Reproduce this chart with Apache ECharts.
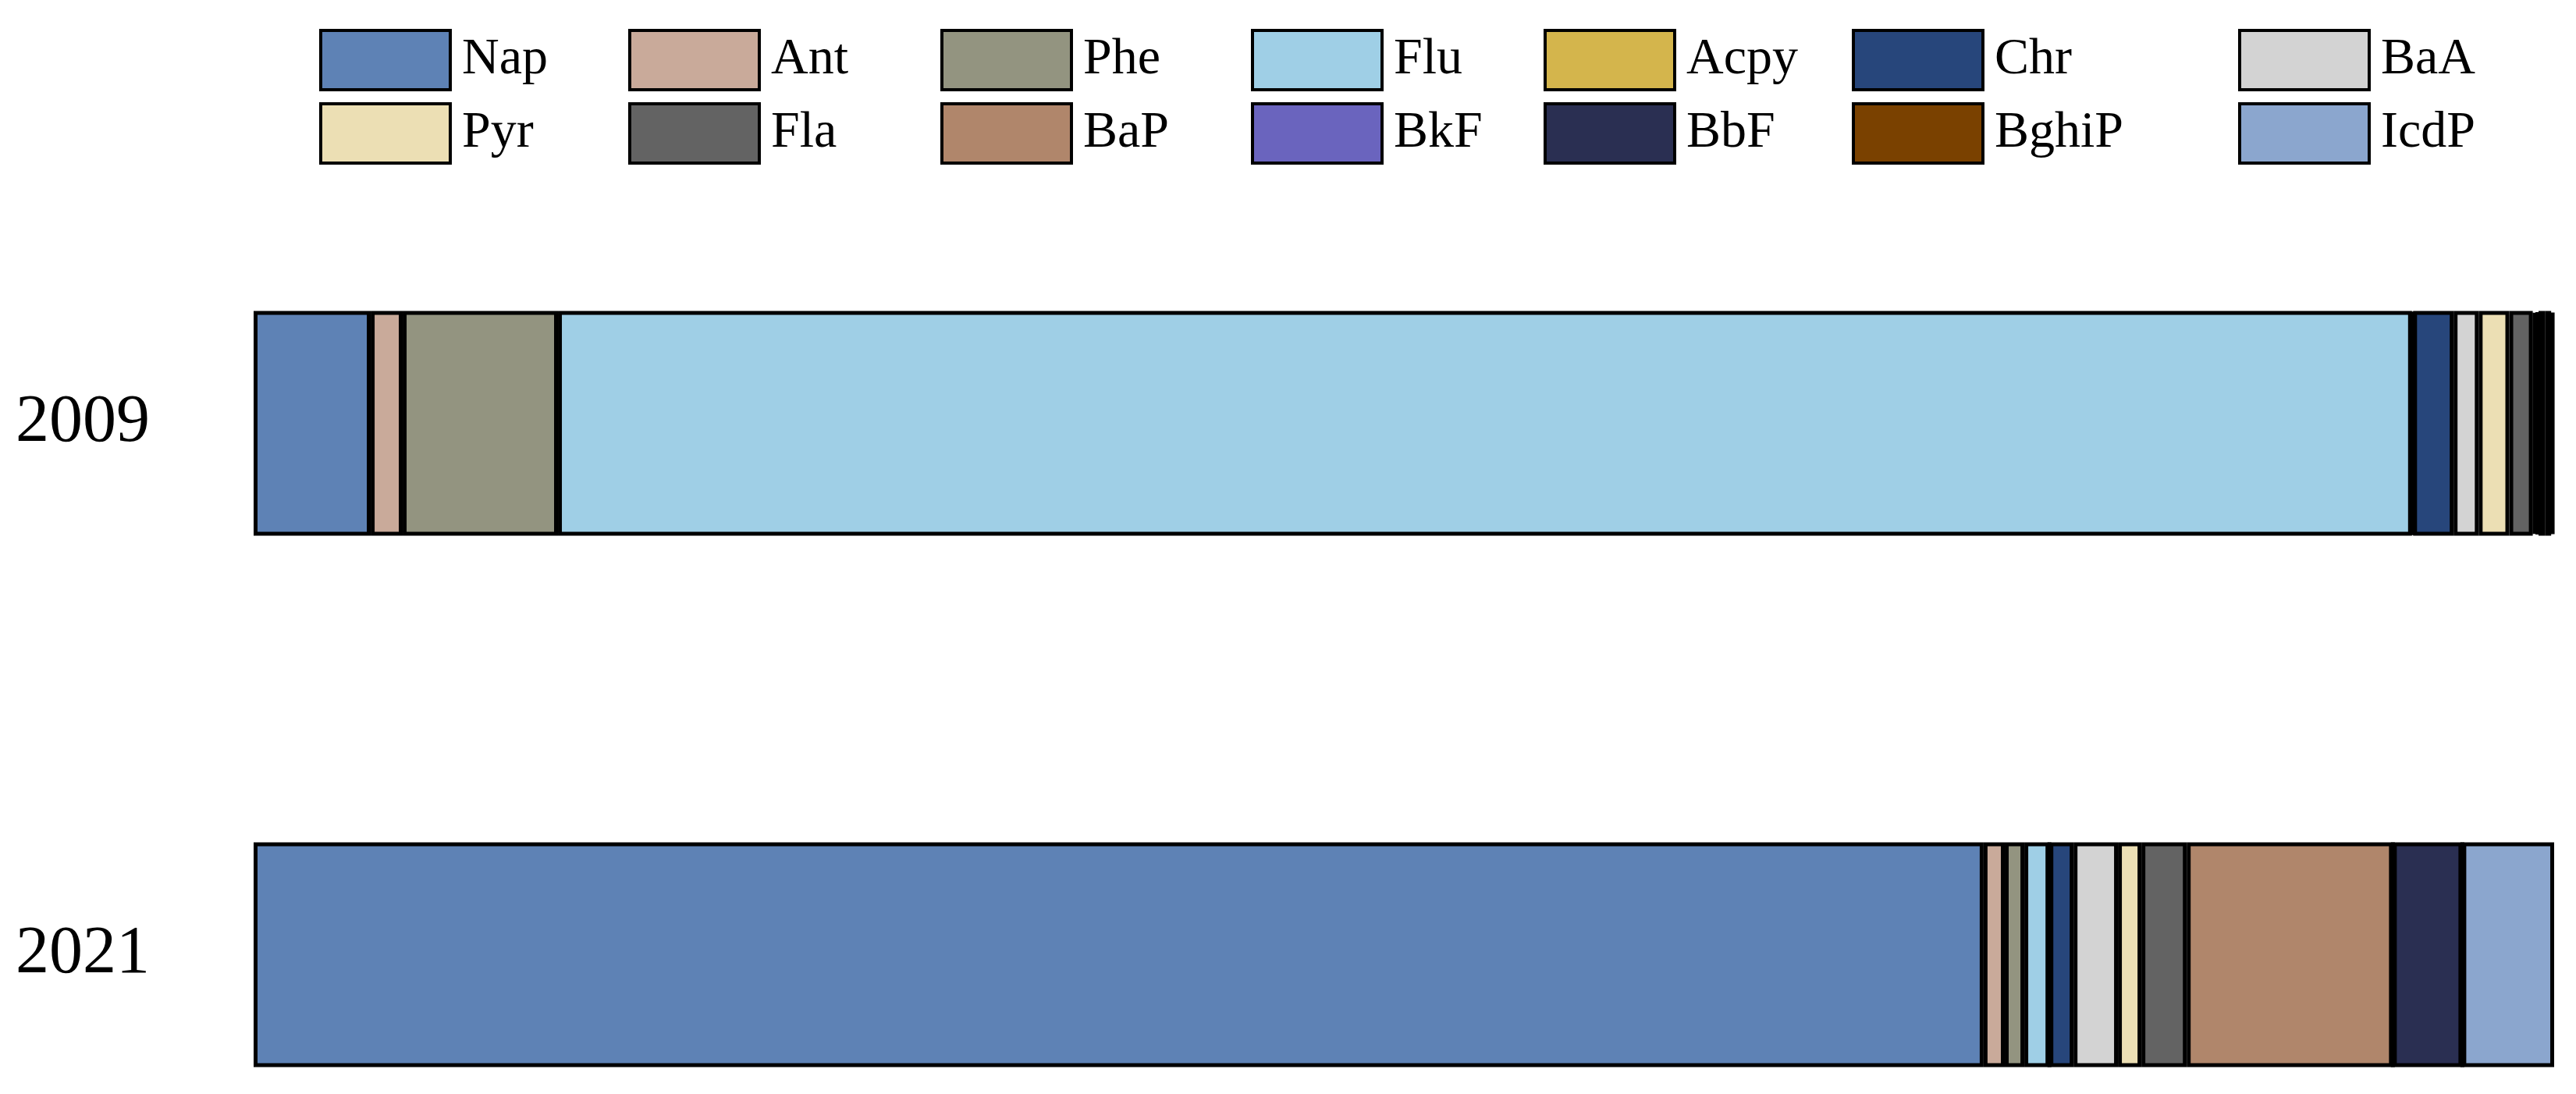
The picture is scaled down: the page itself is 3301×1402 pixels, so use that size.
<!DOCTYPE html>
<html>
<head>
<meta charset="utf-8">
<script src="https://cdn.jsdelivr.net/npm/echarts@6/dist/echarts.min.js"></script>
<style>
  html, body { margin: 0; padding: 0; background: #fff; }
  #chart { width: 3301px; height: 1402px; }
</style>
</head>
<body>
<div id="chart"></div>
<script>
  // 年份
  const years = ['2009', '2021'];
  // PAHs names, legend order
  const names = ['Nap', 'Ant', 'Phe', 'Flu', 'Acpy', 'Chr', 'BaA', 'Pyr', 'Fla', 'BaP', 'BkF', 'BbF', 'BghiP', 'IcdP'];
  const colors = ['#5e82b5', '#c9aa9a', '#939480', '#9fcfe6', '#d4b54c', '#27467b', '#d3d3d3',
    '#ecdfb4', '#636363', '#b0866b', '#6a64be', '#2a2f52', '#7a4100', '#8ba6ce'];
  // percent share per year (%)
  const share2009 = [5.09, 1.39, 6.75, 80.59, 0.05, 1.76, 1.09, 1.33, 1.02, 0.15, 0.10, 0.30, 0.25, 0.13];
  const share2021 = [75.20, 0.92, 0.85, 1.09, 0, 1.05, 1.93, 1.02, 1.97, 8.96, 0, 3.02, 0, 3.99];

  const font = '"Liberation Serif", "Times New Roman", serif';
  const colLeft = [404, 800, 1200, 1598, 1973, 2368, 2863];

  const chart = echarts.init(document.getElementById('chart'));

  // legend: one column per legend, two rows each
  const legends = colLeft.map((x, i) => ({
    orient: 'vertical',
    left: x,
    top: 32,
    itemWidth: 166,
    itemHeight: 76,
    itemGap: 14,
    icon: 'rect',
    itemStyle: { borderColor: '#000', borderWidth: 4 },
    textStyle: { fontFamily: font, fontSize: 66, color: '#000', lineHeight: 76, padding: [0, 0, 0, 10] },
    data: [names[i], names[i + 7]]
  }));

  const series = names.map((n, i) => ({
    name: n,
    type: 'bar',
    stack: 'total',
    barWidth: 288,
    itemStyle: { color: colors[i], borderColor: '#000', borderWidth: 5 },
    emphasis: { disabled: true },
    data: [share2009[i], share2021[i]]
  }));

  const option = {
    backgroundColor: '#fff',
    animation: false,
    legend: legends,
    grid: { left: 325, right: 28, top: 202, height: 1362, outerBoundsMode: 'none' },
    xAxis: {
      type: 'value',
      min: 0,
      max: 100,
      show: false,
      splitLine: { show: false }
    },
    yAxis: {
      type: 'category',
      inverse: true,
      data: years,
      axisLine: { show: false },
      axisTick: { show: false },
      axisLabel: { fontFamily: font, fontSize: 86, color: '#000', align: 'left', margin: 305 }
    },
    series: series
  };
  chart.setOption(option);
</script>
</body>
</html>
